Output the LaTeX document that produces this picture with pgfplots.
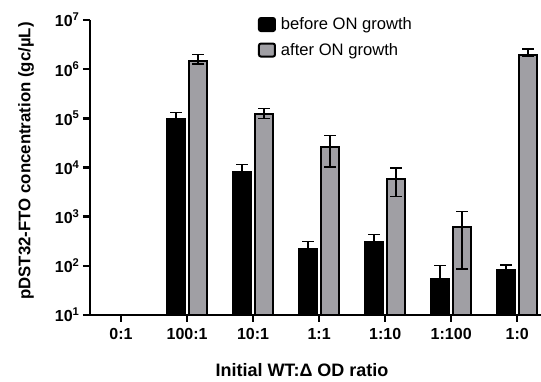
\documentclass[border=0pt]{standalone}
\usepackage{pgfplots}
\pgfplotsset{compat=1.18}
\usepackage{fontspec}
\setmainfont{Liberation Sans}
\definecolor{barGray}{RGB}{160,159,164}
\begin{document}
\begin{tikzpicture}[x=1pt,y=1pt]
\begin{axis}[
  at={(90pt,66pt)}, anchor=south west,
  scale only axis, width=451pt, height=295pt,
  ymode=log, log origin=infty,
  ymin=10, ymax=1e7,
  xmin=-0.47, xmax=6.36,
  axis lines=left,
  axis line style={-, line width=2.5pt, black},
  major tick style={line width=2.5pt, black},
  tick align=outside, major tick length=7pt,
  yminorticks=false,
  ytick={1e1,1e2,1e3,1e4,1e5,1e6,1e7},
  yticklabels={10\textsuperscript{1},10\textsuperscript{2},10\textsuperscript{3},10\textsuperscript{4},10\textsuperscript{5},10\textsuperscript{6},10\textsuperscript{7}},
  xtick={0,1,2,3,4,5,6},
  xticklabels={0:1,100:1,10:1,1:1,1:10,1:100,1:0},
  ticklabel style={font=\bfseries\fontsize{16}{18}\selectfont},
  xticklabel style={yshift=-3pt},
  ylabel={pDST32-FTO concentration (gc/\textmu L)},
  xlabel={Initial WT:Δ OD ratio},
  ylabel style={font=\bfseries\fontsize{16.8}{19}\selectfont, at={(axis description cs:-0.142,0.522)}, anchor=center},
  xlabel style={font=\bfseries\fontsize{18}{20}\selectfont, at={(axis description cs:0.47,-0.21)}, anchor=base},
  ybar=4.5pt, bar width=17.5pt,
  legend image code/.code={\draw[#1, line width=2pt, rounded corners=2pt] (0pt,-6.5pt) rectangle (16pt,6.5pt);},
  legend style={at={(axis description cs:0.372,1.015)}, anchor=north west, draw=none, fill=none,
    font=\fontsize{16.6}{18}\selectfont, row sep=8pt, inner sep=0pt,
    nodes={inner xsep=5pt}},
  legend cell align=left,
  clip=false,
]
\addplot[fill=black, draw=black, line width=2pt,
  error bars/.cd, y dir=plus, y explicit,
  error bar style={line width=1.5pt, black},
  error mark options={rotate=90, mark size=6pt, line width=1.5pt, black}]
  coordinates {
  (1,9.5e4) +- (0,3.5e4)
  (2,8.2e3) +- (0,3.3e3)
  (3,217) +- (0,92)
  (4,300) +- (0,137)
  (5,54) +- (0,47)
  (6,81) +- (0,22)
  };
\addlegendentry{before ON growth}
\addplot[fill=barGray, draw=black, line width=2pt,
  error bars/.cd, y dir=both, y explicit,
  error bar style={line width=1.5pt, black},
  error mark options={rotate=90, mark size=6pt, line width=1.5pt, black}]
  coordinates {
  (1,1.48e6) += (0,5.2e5) -= (0,2e5)
  (2,1.2e5) += (0,4e4) -= (0,2e4)
  (3,2.57e4) += (0,1.88e4) -= (0,1.55e4)
  (4,5.9e3) += (0,3.9e3) -= (0,3.3e3)
  (5,630) += (0,630) -= (0,544)
  (6,1.95e6) += (0,6.5e5) -= (0,1.5e5)
  };
\addlegendentry{after ON growth}
\end{axis}
\pgfresetboundingbox
\path[use as bounding box] (0,0) rectangle (541,381);
\end{tikzpicture}
\end{document}
